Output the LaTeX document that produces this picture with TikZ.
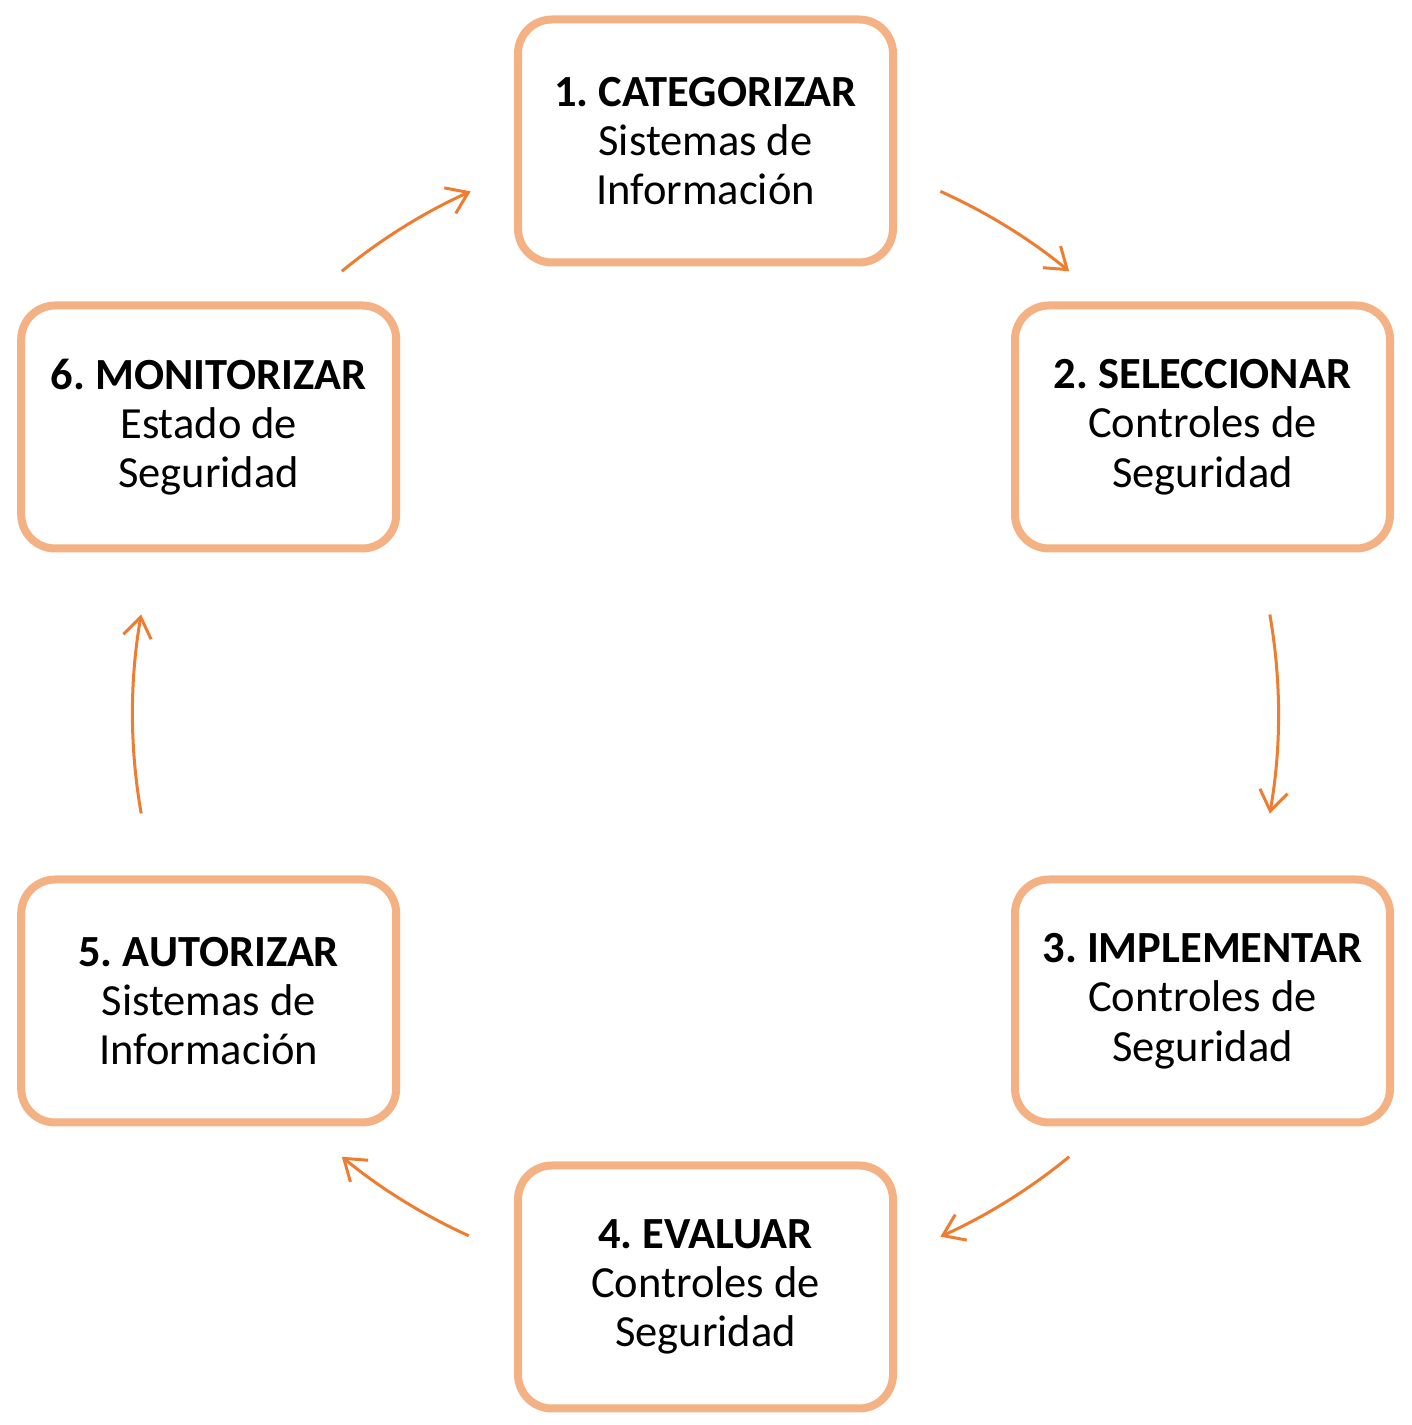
\documentclass[tikz,border=0pt]{standalone}
\usepackage{fontspec}
\setmainfont{Carlito}
\usetikzlibrary{arrows.meta,calc}
\definecolor{boxline}{HTML}{F4B183}
\definecolor{arrowc}{HTML}{ED7D31}
\frenchspacing
\begin{document}
\begin{tikzpicture}[x=1pt,y=1pt,
  stepbox/.style={draw=boxline,line width=8pt,rounded corners=34pt,fill=white,
    minimum width=375pt,minimum height=243pt,align=center,
    font=\fontsize{44.5}{49.3}\selectfont,text=black},
  cyc/.style={draw=arrowc,line width=3pt,-{Straight Barb[length=20pt,width=28pt]}}]
\useasboundingbox (0,0) rectangle (1412,1425);
\node[stepbox] (s1) at (705.5,1284) {\textbf{1. CATEGORIZAR}\\Sistemas de\\Información};
\node[stepbox] (s2) at (1202.5,998) {\textbf{2. SELECCIONAR}\\Controles de\\Seguridad};
\node[stepbox] (s3) at (1202.5,424) {\textbf{3. IMPLEMENTAR}\\Controles de\\Seguridad};
\node[stepbox] (s4) at (705.5,138) {\textbf{4. EVALUAR}\\Controles de\\Seguridad};
\node[stepbox] (s5) at (208.7,424) {\textbf{5. AUTORIZAR}\\Sistemas de\\Información};
\node[stepbox] (s6) at (208.7,998) {\textbf{6. MONITORIZAR}\\Estado de\\Seguridad};
\coordinate (c) at (705.5,711);
\coordinate (a1) at ($(c)+(65.8:573)$);
\coordinate (a2) at ($(c)+(10:573)$);
\coordinate (a3) at ($(c)+(-50.6:573)$);
\coordinate (a4) at ($(c)+(-114.4:573)$);
\coordinate (a5) at ($(c)+(190:573)$);
\coordinate (a6) at ($(c)+(129.4:573)$);
\draw[cyc] (a1) arc[start angle=65.8,end angle=50.6,radius=573];
\draw[cyc] (a2) arc[start angle=10,end angle=-10,radius=573];
\draw[cyc] (a3) arc[start angle=-50.6,end angle=-65.8,radius=573];
\draw[cyc] (a4) arc[start angle=-114.4,end angle=-129.4,radius=573];
\draw[cyc] (a5) arc[start angle=190,end angle=170,radius=573];
\draw[cyc] (a6) arc[start angle=129.4,end angle=114.2,radius=573];
\end{tikzpicture}
\end{document}
